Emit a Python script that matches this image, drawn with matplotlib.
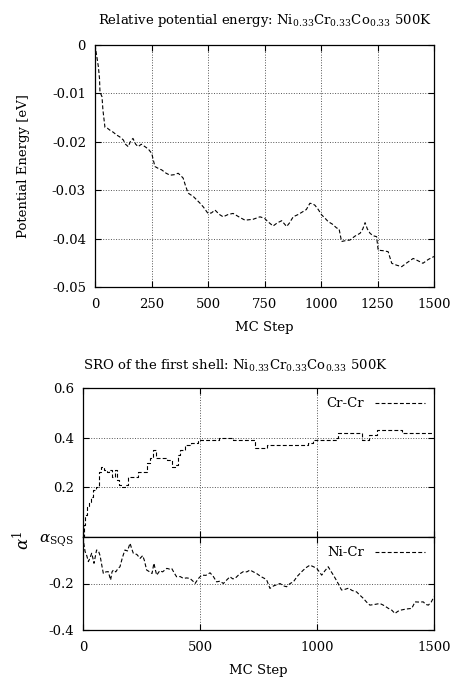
import matplotlib
matplotlib.use("Agg")
import matplotlib.pyplot as plt

plt.rcParams["font.family"] = "DejaVu Serif"
plt.rcParams["mathtext.fontset"] = "dejavuserif"
plt.rcParams["axes.unicode_minus"] = False
plt.rcParams["font.size"] = 9.5

# relative potential energy vs MC step
e_step = [0, 5, 10, 15, 20, 22, 31, 35, 44, 55, 66, 80, 96, 110, 125, 135, 147, 158, 168, 180,
          191, 205, 221, 236, 251, 265, 280, 295, 315, 332, 350, 368, 380, 390, 400, 412, 425, 435, 450, 465,
          480, 500, 515, 531, 550, 567, 590, 611, 640, 664, 700, 730, 750, 765, 788, 805, 826, 848, 860, 877,
          900, 921, 935, 951, 962, 973, 988, 1003, 1018, 1032, 1050, 1069, 1080, 1091, 1110, 1128, 1150, 1173, 1185, 1195,
          1205, 1217, 1230, 1246, 1253, 1275, 1297, 1313, 1335, 1357, 1380, 1408, 1430, 1451, 1475, 1500]
energy = [0.0, -0.0015, -0.003, -0.0045, -0.007, -0.0097, -0.0107, -0.0134, -0.017, -0.0172, -0.0176, -0.018, -0.0186, -0.019, -0.0196, -0.0205, -0.021, -0.0198, -0.0193, -0.0205,
          -0.021, -0.0205, -0.021, -0.0215, -0.0224, -0.0251, -0.0255, -0.0258, -0.0265, -0.0269, -0.0268, -0.0265, -0.027, -0.0275, -0.029, -0.0306, -0.031, -0.0313, -0.032, -0.0327,
          -0.0335, -0.0348, -0.0347, -0.0341, -0.035, -0.0355, -0.035, -0.0348, -0.0356, -0.0362, -0.036, -0.0355, -0.0358, -0.0365, -0.0374, -0.0368, -0.0363, -0.0375, -0.0368, -0.0355,
          -0.035, -0.0344, -0.034, -0.0327, -0.0328, -0.0331, -0.034, -0.0351, -0.0358, -0.0365, -0.037, -0.0378, -0.038, -0.0406, -0.0404, -0.0403, -0.0395, -0.0389, -0.038, -0.0367,
          -0.038, -0.0389, -0.0394, -0.0396, -0.0424, -0.0425, -0.0427, -0.0451, -0.0455, -0.0458, -0.045, -0.0441, -0.0446, -0.0451, -0.0443, -0.0437]

# SRO Cr-Cr (step changes)
cc_step = [0, 4, 10, 18, 26, 34, 42, 55, 68, 76, 90, 101, 112, 123, 137, 144, 155, 165, 180, 194,
           222, 236, 258, 272, 285, 300, 312, 343, 360, 379, 393, 405, 415, 436, 460, 493, 580, 641, 721, 735,
           785, 942, 960, 984, 1084, 1091, 1184, 1191, 1212, 1222, 1255, 1348, 1362, 1500]
cc_val = [0.0, 0.05, 0.09, 0.12, 0.14, 0.16, 0.19, 0.20, 0.26, 0.28, 0.27, 0.26, 0.27, 0.24, 0.27, 0.23, 0.21, 0.20, 0.21, 0.24,
          0.24, 0.26, 0.26, 0.30, 0.32, 0.35, 0.32, 0.32, 0.31, 0.28, 0.29, 0.33, 0.35, 0.37, 0.38, 0.39, 0.40, 0.39, 0.39, 0.36,
          0.37, 0.37, 0.38, 0.39, 0.40, 0.42, 0.42, 0.39, 0.39, 0.41, 0.43, 0.43, 0.42, 0.42]

# SRO Ni-Cr
nc_step = [0, 1, 9, 16, 23, 30, 37, 42, 47, 58, 66, 73, 80, 87, 98, 108, 118, 124, 130, 140,
           150, 158, 168, 179, 190, 201, 208, 215, 230, 244, 255, 262, 272, 285, 295, 303, 309, 315, 328, 340,
           358, 370, 379, 390, 400, 415, 429, 443, 457, 470, 479, 492, 507, 525, 543, 557, 571, 585, 600, 614,
           628, 640, 650, 668, 685, 700, 714, 728, 742, 760, 775, 785, 799, 815, 830, 842, 856, 870, 885, 899,
           915, 929, 942, 956, 970, 985, 999, 1010, 1020, 1034, 1048, 1058, 1070, 1085, 1105, 1120, 1135, 1150, 1169, 1183,
           1198, 1212, 1226, 1247, 1269, 1287, 1305, 1320, 1333, 1345, 1355, 1380, 1405, 1419, 1437, 1454, 1465, 1476, 1488, 1500]
nc_val = [0.0, -0.013, -0.063, -0.08, -0.106, -0.09, -0.07, -0.09, -0.113, -0.056, -0.06, -0.08, -0.12, -0.157, -0.15, -0.149, -0.185, -0.15, -0.142, -0.15,
          -0.135, -0.128, -0.09, -0.056, -0.06, -0.027, -0.05, -0.07, -0.075, -0.092, -0.08, -0.1, -0.142, -0.15, -0.157, -0.113, -0.14, -0.164, -0.145, -0.15,
          -0.135, -0.138, -0.135, -0.155, -0.171, -0.17, -0.178, -0.176, -0.178, -0.19, -0.2, -0.18, -0.164, -0.165, -0.154, -0.17, -0.193, -0.19, -0.2, -0.185,
          -0.171, -0.18, -0.178, -0.16, -0.149, -0.15, -0.142, -0.15, -0.157, -0.17, -0.178, -0.185, -0.221, -0.21, -0.205, -0.2, -0.21, -0.214, -0.2, -0.193,
          -0.17, -0.155, -0.142, -0.13, -0.121, -0.128, -0.135, -0.15, -0.164, -0.145, -0.128, -0.145, -0.164, -0.19, -0.228, -0.225, -0.22, -0.23, -0.236, -0.25,
          -0.264, -0.28, -0.293, -0.29, -0.286, -0.295, -0.307, -0.315, -0.329, -0.32, -0.315, -0.31, -0.307, -0.279, -0.28, -0.279, -0.29, -0.293, -0.28, -0.257]

alloy = "Ni$_{0.33}$Cr$_{0.33}$Co$_{0.33}$ 500K"
ls = dict(color="black", lw=0.8, linestyle=(0, (3.5, 2)))
grid = dict(color="#555555", linestyle=":", lw=0.7)

fig = plt.figure(figsize=(4.53, 6.82), dpi=100)

def style(ax):
    ax.tick_params(direction="in", top=True, right=True, length=4, width=0.8, labelsize=9.5)
    ax.tick_params(axis="x", pad=8)
    ax.tick_params(axis="y", pad=6.5)
    for s in ax.spines.values():
        s.set_linewidth(0.9)

# top panel
ax1 = fig.add_axes([95/453, 1-287/682, 339/453, 242/682])
ax1.plot(e_step, energy, **ls)
ax1.set_xlim(0, 1500)
ax1.set_ylim(-0.05, 0)
ax1.set_xticks([0, 250, 500, 750, 1000, 1250, 1500])
ax1.set_yticks([-0.05, -0.04, -0.03, -0.02, -0.01, 0])
ax1.set_yticklabels(["-0.05", "-0.04", "-0.03", "-0.02", "-0.01", "0"])
ax1.grid(True, **grid)
style(ax1)
ax1.set_xlabel("MC Step", labelpad=7)
ax1.set_ylabel("Potential Energy [eV]", labelpad=16)
ax1.set_title("Relative potential energy: " + alloy, fontsize=9.5, pad=15)

# bottom panel, upper part (Cr-Cr)
ax2 = fig.add_axes([83/453, 1-537/682, 351/453, 149/682])
ax2.plot(cc_step, cc_val, drawstyle="steps-post", label="Cr-Cr", **ls)
ax2.set_xlim(0, 1500)
ax2.set_ylim(0, 0.6)
ax2.set_xticks([0, 500, 1000, 1500])
ax2.set_yticks([0.2, 0.4, 0.6])
ax2.set_yticklabels(["0.2", "0.4", "0.6"])
ax2.tick_params(labelbottom=False)
ax2.grid(True, **grid)
style(ax2)
ax2.legend(loc="upper right", frameon=False, markerfirst=False, handlelength=3.8,
           fontsize=9.5, borderaxespad=0.3)

# bottom panel, lower part (Ni-Cr)
ax3 = fig.add_axes([83/453, 1-630/682, 351/453, 93/682], sharex=ax2)
ax3.plot(nc_step, nc_val, label="Ni-Cr", **ls)
ax3.set_ylim(-0.4, 0)
ax3.set_yticks([-0.4, -0.2, 0])
ax3.set_xticks([0, 500, 1000, 1500])
ax3.grid(True, **grid)
style(ax3)
ax3.set_yticklabels(["-0.4", "-0.2", r"$\alpha_{\rm SQS}$"])
ax3.get_yticklabels()[-1].set_fontsize(11)
ax3.set_xlabel("MC Step", labelpad=7)
ax3.legend(loc="upper right", frameon=False, markerfirst=False, handlelength=3.8,
           fontsize=9.5, borderaxespad=0.3)

fig.text(83/453, 1-366/682, "SRO of the first shell: " + alloy, ha="left", va="center", fontsize=9.5)
fig.text(23/453, 1-540/682, r"$\alpha^1$", rotation=90, ha="center", va="center", fontsize=12)

fig.savefig("out.png", dpi=100)
